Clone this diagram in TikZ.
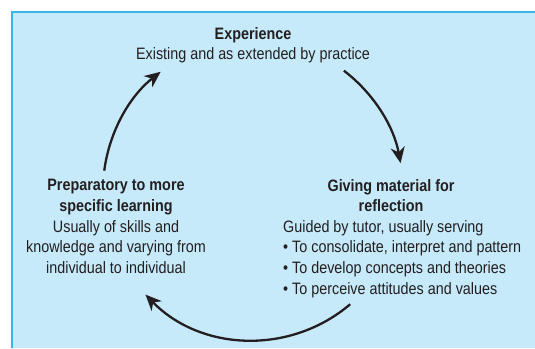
\documentclass[tikz,border=0pt]{standalone}
\usepackage{fontspec}
\setmainfont[FakeStretch=0.87]{Liberation Sans}
\usepackage{tikz}
\usetikzlibrary{arrows.meta, positioning, calc}
\definecolor{panel}{HTML}{C6EAF9}
\definecolor{rim}{HTML}{3CB4E5}
\definecolor{ink}{HTML}{231F20}

\begin{document}
\begin{tikzpicture}[x=1pt, y=1pt,
    stage/.style={inner sep=0pt, align=center, text=ink,
        font=\fontsize{16.5}{20.8}\selectfont},
    notes/.style={inner sep=0pt, align=left, text=ink,
        font=\fontsize{16.5}{20.8}\selectfont},
    cyc/.style={-{Stealth[length=16pt, width=14pt, inset=5pt]}, line width=2.3pt, ink}
]
\useasboundingbox (0,0) rectangle (535,348);
\fill[panel] (12,0) rectangle (535,336);
\draw[rim, line width=1.5pt] (12,0) -- (12,336) -- (535,336);

\coordinate (hub) at (253,158);

\node[stage, anchor=north] (experience) at (253,321)
    {\textbf{Experience}\\ Existing and as extended by practice};
\node[stage, anchor=north] (preparatory) at (116,169)
    {\textbf{Preparatory to more}\\ \textbf{specific learning}\\
     Usually of skills and\\ knowledge and varying from\\ individual to individual};
\node[stage, anchor=north] (giving) at (391,169)
    {\textbf{Giving material for}\\ \textbf{reflection}};
\node[notes, anchor=north west] (giving-notes) at (283,128)
    {Guided by tutor, usually serving\\
     • To consolidate, interpret and pattern\\
     • To develop concepts and theories\\
     • To perceive attitudes and values};

% points on the cycle
\coordinate (exp-out) at ($(hub)+(52.7:150)$);
\coordinate (giv-out) at ($(hub)+(-49.6:150)$);
\coordinate (prep-out) at ($(hub)+(172.6:150)$);

\draw[cyc] (exp-out) arc[start angle=52.7, end angle=10.3, radius=150];
\draw[cyc] (giv-out) arc[start angle=-49.6, end angle=-135.8, radius=150];
\draw[cyc] (prep-out) arc[start angle=172.6, end angle=128, radius=150];
\end{tikzpicture}
\end{document}
